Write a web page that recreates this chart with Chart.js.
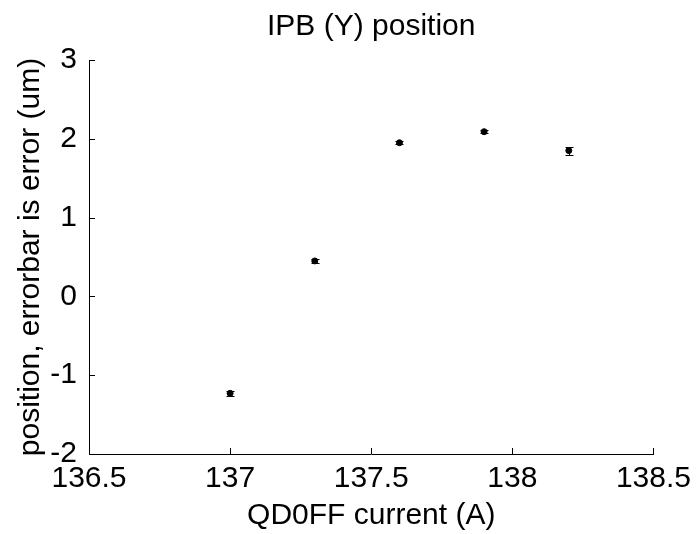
<!DOCTYPE html>
<html>
<head>
<meta charset="utf-8">
<script src="https://cdn.jsdelivr.net/npm/chart.js@4/dist/chart.umd.min.js"></script>
<style>
  html, body { margin: 0; padding: 0; background: #fff; }
  #wrap { width: 698px; height: 534px; }
</style>
</head>
<body>
<div id="wrap"><canvas id="myChart" width="698" height="534"></canvas></div>
<script>
var currents = [137, 137.3, 137.6, 137.9, 138.2];
var positions = [-1.23, 0.45, 1.95, 2.09, 1.85];
var errors = [0.03, 0.02, 0.02, 0.02, 0.05];
var xTicks = [136.5, 137, 137.5, 138, 138.5];
var yTicks = [-2, -1, 0, 1, 2, 3];

var font = 'Arial, "Liberation Sans", sans-serif';

var points = currents.map(function (c, i) {
    return { x: c, y: positions[i], err: errors[i] };
});

// error bars with small caps, matlab style
const errorBars = {
    id: 'errorBars',
    afterDatasetsDraw(chart) {
        const c = chart.ctx;
        const xs = chart.scales.x, ys = chart.scales.y;
        c.save();
        c.strokeStyle = '#000';
        c.lineWidth = 1;
        points.forEach(function (p) {
            var px = Math.round(xs.getPixelForValue(p.x)) + 0.5;
            var top = Math.round(ys.getPixelForValue(p.y + p.err)) + 0.5;
            var bot = Math.round(ys.getPixelForValue(p.y - p.err)) + 0.5;
            c.beginPath();
            c.moveTo(px, top); c.lineTo(px, bot);
            c.moveTo(px - 4, top); c.lineTo(px + 4, top);
            c.moveTo(px - 4, bot); c.lineTo(px + 4, bot);
            c.stroke();
        });
        c.restore();
    }
};

// ticks pointing into the axes
const innerTicks = {
    id: 'innerTicks',
    afterDraw(chart) {
        const c = chart.ctx;
        const a = chart.chartArea;
        c.save();
        c.strokeStyle = '#000';
        c.lineWidth = 1;
        c.beginPath();
        chart.scales.x.ticks.forEach(function (t, i) {
            var px = Math.round(chart.scales.x.getPixelForTick(i)) + 0.5;
            c.moveTo(px, a.bottom); c.lineTo(px, a.bottom - 6);
        });
        chart.scales.y.ticks.forEach(function (t, i) {
            var py = Math.round(chart.scales.y.getPixelForTick(i)) + 0.5;
            c.moveTo(a.left, py); c.lineTo(a.left + 6, py);
        });
        c.stroke();
        c.restore();
    }
};

const ctx = document.getElementById('myChart');

let chart = new Chart(ctx, {
    type: 'scatter',
    data: {
        datasets: [{
            label: 'position',
            data: points,
            backgroundColor: '#000',
            borderColor: '#000',
            pointRadius: 3,
            pointHoverRadius: 3,
            showLine: false
        }]
    },
    options: {
        responsive: false,
        animation: false,
        events: [],
        layout: { padding: { left: 0, right: 42, top: 0, bottom: 0 } },
        plugins: {
            legend: { display: false },
            tooltip: { enabled: false },
            title: {
                display: true,
                fullSize: false,
                text: 'IPB (Y) position',
                color: '#000',
                font: { family: font, size: 30, weight: 'normal' },
                padding: { top: 8.5, bottom: 15.5 }
            }
        },
        scales: {
            x: {
                type: 'linear',
                min: 136.5,
                max: 138.5,
                afterBuildTicks: function (s) { s.ticks = xTicks.map(function (v) { return { value: v }; }); },
                afterFit: function (s) { s.height = 80; },
                grid: { display: false, drawTicks: false },
                border: { display: true, color: '#000', width: 1 },
                ticks: {
                    color: '#000',
                    padding: 7,
                    maxRotation: 0,
                    font: { family: font, size: 30 },
                    callback: function (v) { return String(v); }
                },
                title: {
                    display: true,
                    text: 'QD0FF current (A)',
                    color: '#000',
                    font: { family: font, size: 30 },
                    padding: { top: 0, bottom: 0 }
                }
            },
            y: {
                type: 'linear',
                min: -2,
                max: 3,
                afterBuildTicks: function (s) { s.ticks = yTicks.map(function (v) { return { value: v }; }); },
                afterFit: function (s) { s.width = 89; },
                grid: { display: false, drawTicks: false },
                border: { display: true, color: '#000', width: 1 },
                ticks: {
                    color: '#000',
                    padding: 12,
                    font: { family: font, size: 30 },
                    callback: function (v) { return String(v); }
                },
                title: {
                    display: true,
                    text: 'position, errorbar is error (um)',
                    color: '#000',
                    font: { family: font, size: 30 },
                    padding: { top: 13, bottom: 0 }
                }
            }
        }
    },
    plugins: [errorBars, innerTicks]
});
</script>
</body>
</html>
